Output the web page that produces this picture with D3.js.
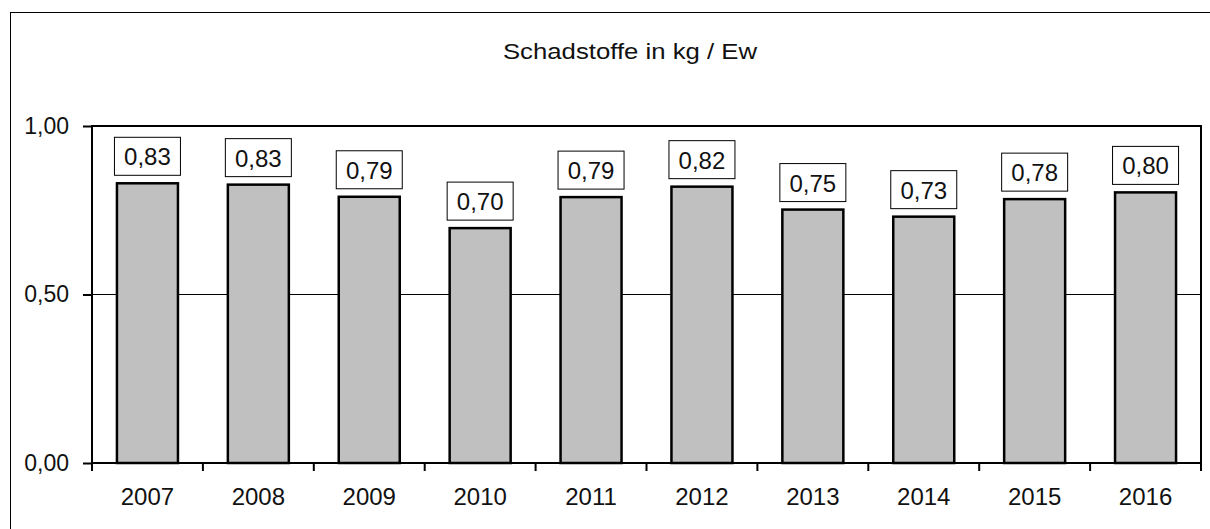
<!DOCTYPE html>
<html>
<head>
<meta charset="utf-8">
<script src="https://cdn.jsdelivr.net/npm/d3@7"></script>
<style>
  body { margin: 0; background: #fff; }
  text { font-family: "Liberation Sans", Arial, sans-serif; fill: #111; }
</style>
</head>
<body>
<div class="canvas"></div>
<script>
// data
const years = ['2007', '2008', '2009', '2010', '2011', '2012', '2013', '2014', '2015', '2016'];
const values = [0.83, 0.826, 0.79, 0.697, 0.789, 0.82, 0.752, 0.731, 0.783, 0.803];
const yTicks = [0, 0.5, 1];
const title = 'Schadstoffe in kg / Ew';

const margin = { top: 126, right: 9, bottom: 66, left: 92 };
const width = 1210, height = 529;
const graphWidth = width - margin.left - margin.right;
const graphHeight = height - margin.top - margin.bottom;

const svg = d3.select('.canvas').append('svg')
  .attr('width', width)
  .attr('height', height);

// outer chart frame
svg.append('rect')
  .attr('x', 10.5).attr('y', 12.5)
  .attr('width', 1240).attr('height', 540)
  .attr('fill', 'none')
  .attr('stroke', '#000')
  .attr('stroke-width', 1);

// title (a bit stretched like the original)
svg.append('text')
  .attr('transform', 'translate(630,59) scale(1.17,1)')
  .attr('text-anchor', 'middle')
  .style('font-size', '22px')
  .text(title);

const graph = svg.append('g')
  .attr('transform', `translate(${margin.left},${margin.top})`);

// scales
const x = d3.scaleBand().domain(years).range([0, graphWidth]).paddingInner(0.45).paddingOuter(0.225);
const xOuter = d3.scaleBand().domain(years).range([0, graphWidth]);
const y = d3.scaleLinear().domain([0, 1]).range([graphHeight, 0]);

const fmt = d => d3.format('.2f')(d).replace('.', ',');

// gridline at 0,50
graph.append('line')
  .attr('x1', 0).attr('x2', graphWidth)
  .attr('y1', y(0.5)).attr('y2', y(0.5))
  .attr('stroke', '#000').attr('stroke-width', 1);

// bars
graph.selectAll('rect.bar')
  .data(values)
  .enter().append('rect')
    .attr('class', 'bar')
    .attr('x', (d, i) => x(years[i]))
    .attr('y', d => y(d))
    .attr('width', x.bandwidth())
    .attr('height', d => graphHeight - y(d))
    .attr('fill', '#c0c0c0')
    .attr('stroke', '#000')
    .attr('stroke-width', 2.5);

// plot frame (top, right, left)
graph.append('path')
  .attr('d', `M0,${graphHeight}V0H${graphWidth}V${graphHeight}`)
  .attr('fill', 'none')
  .attr('stroke', '#000')
  .attr('stroke-width', 2);

// y axis
const yAxisGroup = graph.append('g');
yAxisGroup.call(d3.axisLeft(y).tickValues(yTicks).tickSize(9).tickPadding(14).tickFormat(fmt));
yAxisGroup.select('.domain').remove();
yAxisGroup.selectAll('line').attr('stroke', '#000').attr('stroke-width', 2);
yAxisGroup.selectAll('text').style('font-size', '23px').attr('fill', '#111')
  .style('font-family', '"Liberation Sans", Arial, sans-serif');

// x axis
const xAxisGroup = graph.append('g')
  .attr('transform', `translate(0,${graphHeight})`);
xAxisGroup.call(d3.axisBottom(xOuter).tickSize(0).tickPadding(25));
xAxisGroup.select('.domain').attr('stroke', '#000').attr('stroke-width', 2).attr('d', `M0,0H${graphWidth}`);
xAxisGroup.selectAll('text').style('font-size', '24px').attr('fill', '#111')
  .style('font-family', '"Liberation Sans", Arial, sans-serif');

// tick marks between categories
const bounds = d3.range(years.length + 1).map(i => i * xOuter.step());
xAxisGroup.selectAll('line.sep')
  .data(bounds)
  .enter().append('line')
    .attr('class', 'sep')
    .attr('x1', d => d).attr('x2', d => d)
    .attr('y1', 0).attr('y2', 8)
    .attr('stroke', '#000').attr('stroke-width', 2);

// value labels
const labels = graph.selectAll('g.label')
  .data(values)
  .enter().append('g')
    .attr('class', 'label')
    .attr('transform', (d, i) => `translate(${x(years[i]) + x.bandwidth() / 2},${y(d) - 8})`);

labels.append('rect')
  .attr('x', -33).attr('y', -38)
  .attr('width', 66).attr('height', 38)
  .attr('fill', '#fff')
  .attr('stroke', '#000').attr('stroke-width', 1);

labels.append('text')
  .attr('y', -10)
  .attr('text-anchor', 'middle')
  .style('font-size', '24px')
  .text(fmt);
</script>
</body>
</html>
